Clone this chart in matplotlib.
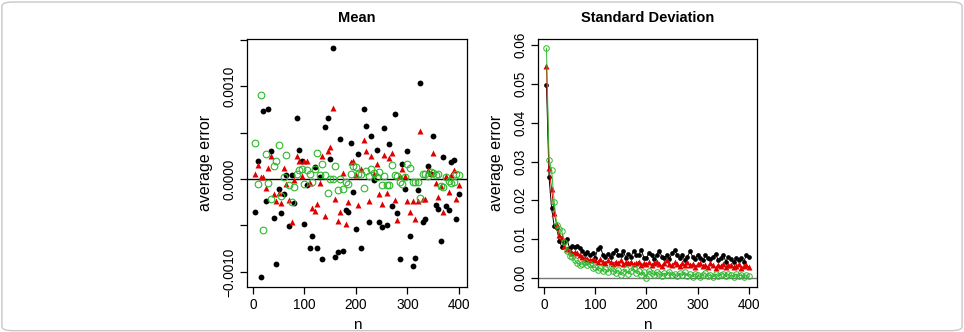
import numpy as np
import matplotlib
matplotlib.use("Agg")
from matplotlib import pyplot as plt
from matplotlib.patches import FancyBboxPatch

plt.rcParams['font.family'] = ['Liberation Sans', 'DejaVu Sans']

# sample sizes
n = list(range(5, 405, 5))

# average error of the mean (units of 1e-4)
mean_black = [-3.6, 1.9, -10.6, 7.3, -2.4, 7.6, 3.0, -4.2, -9.1, -1.1,
              -3.7, -1.6, 0.4, -5.1, 0.4, -2.6, 6.6, 3.1, 2.0, -4.8,
              -0.6, -7.4, -6.1, 1.3, -7.4, 0.2, -8.6, 5.6, 6.6, 2.2,
              14.1, -8.4, -7.9, 4.3, -7.7, -3.3, -3.6, 3.9, -1.4, -5.4,
              2.7, -7.4, 7.6, 5.7, -4.6, 4.6, -0.1, 3.1, -4.6, -5.2,
              5.5, -4.9, 3.8, -2.9, 7.0, -3.7, -8.6, 1.6, -1.1, 3.0,
              -6.1, -9.4, -8.5, -1.2, 10.4, -4.6, -4.3, 1.4, 0.5, 4.6,
              -2.8, -3.2, -6.7, 2.4, -2.9, -3.3, 1.8, 2.1, -4.3, -1.6]
mean_red = [0.5, 1.5, 0.2, 0.2, -1.0, 1.2, 2.5, -1.6, -2.4, -1.5,
            -2.6, 1.2, -0.5, -2.3, -4.6, -0.1, 2.5, 1.9, 0.3, 1.9,
            1.9, -0.4, -3.1, -3.4, -2.7, -0.4, 2.5, -4.0, 3.0, 3.5,
            7.7, -2.1, -4.5, -3.6, 0.7, -4.8, -2.5, 1.8, 2.0, 0.4,
            -2.8, 1.1, 4.2, 3.0, -2.4, 2.5, 0.6, 1.6, -1.6, -2.7,
            2.6, -1.5, 2.3, 2.8, -2.3, -4.4, 0.3, 1.1, 0.3, -2.4,
            -3.6, -2.4, -4.3, -2.4, 5.2, -2.2, -2.2, 1.0, 0.7, 2.8,
            -0.4, -1.9, -0.7, -3.6, 0.3, -1.4, 0.4, 1.0, -2.2, -0.6]
mean_green = [3.9, -0.5, 9.1, -5.5, 2.7, -0.4, -2.2, 1.4, 2.0, 3.7,
              -1.8, 0.2, 2.6, -0.6, -2.5, -0.9, 0.5, 1.0, 1.1, -0.5,
              1.0, 0.6, -0.3, 1.1, 2.8, 0.4, 1.6, 0.4, -1.5, 0.0,
              0.0, 1.4, -1.2, 0.0, -1.1, -0.3, -0.5, 0.5, 1.4, 1.3,
              0.6, 0.5, -1.0, 0.9, 0.3, 1.1, 0.7, 0.2, 0.8, -0.6,
              0.3, -0.6, -0.6, 1.5, 0.4, 0.3, -0.3, -0.5, 0.2, 1.6,
              1.2, -0.3, -0.3, -0.3, -2.0, 0.5, 0.6, 0.3, 0.8, 0.7,
              0.4, 0.6, -0.7, -0.9, 0.2, -0.2, -0.4, -0.3, 0.5, 0.4]

# average error of the standard deviation (units of 1e-3)
sd_black = [49.7, 25.9, 17.9, 13.4, 12.8, 9.6, 7.9, 9.3, 10.0, 7.6,
            8.2, 8.0, 8.3, 7.7, 7.0, 6.2, 6.6, 5.8, 6.4, 5.2,
            7.5, 8.0, 6.0, 5.5, 6.2, 5.5, 6.5, 7.2, 6.0, 5.8,
            6.8, 5.2, 6.2, 5.5, 7.0, 5.8, 6.0, 7.2, 5.2, 5.0,
            6.5, 5.8, 4.8, 6.0, 7.0, 5.5, 5.2, 5.8, 4.8, 6.5,
            7.2, 5.8, 5.2, 6.0, 4.5, 5.5, 6.8, 5.5, 4.8, 6.0,
            5.2, 4.5, 5.8, 5.0, 4.8, 5.5, 6.2, 4.5, 5.0, 5.8,
            4.2, 5.5, 4.8, 4.0, 5.2, 4.5, 5.0, 4.2, 5.8, 5.5]
sd_red = [54.6, 28.2, 23.0, 16.7, 13.6, 11.0, 10.5, 8.2, 7.4, 7.0,
          6.5, 6.6, 6.4, 6.0, 5.5, 5.0, 4.9, 4.6, 4.8, 4.5,
          4.0, 4.8, 4.2, 3.8, 4.5, 4.0, 3.6, 4.2, 3.8, 4.5,
          3.5, 4.0, 3.8, 4.2, 3.5, 3.8, 4.2, 3.3, 3.8, 3.5,
          4.0, 3.2, 3.7, 4.2, 3.5, 3.0, 3.8, 4.5, 3.5, 3.2,
          4.0, 3.6, 3.0, 3.8, 3.4, 4.2, 3.2, 3.6, 2.8, 3.5,
          3.8, 3.0, 3.4, 2.8, 3.8, 3.2, 2.6, 3.4, 3.0, 3.6,
          2.7, 3.2, 3.4, 2.8, 3.0, 3.5, 2.6, 3.0, 3.2, 2.8]
sd_green = [59.2, 30.5, 27.8, 19.6, 13.6, 12.6, 12.0, 9.2, 7.0, 5.6,
            5.4, 4.6, 3.8, 3.4, 3.6, 4.0, 3.2, 3.6, 2.6, 2.8,
            2.0, 2.5, 1.8, 2.2, 1.5, 2.5, 1.8, 1.2, 2.0, 0.8,
            1.5, 2.2, 1.0, 1.8, 2.5, 1.2, 1.8, 0.6, 1.5, 0.0,
            1.8, 1.2, 0.8, 1.5, 1.0, 0.5, 1.2, 0.8, 1.6, 0.6,
            1.0, 0.4, 1.2, 0.7, 1.4, 0.5, 0.9, 0.3, 1.1, 0.6,
            0.2, 0.8, 1.2, 0.4, 0.7, 0.3, 1.0, 0.5, 0.8, 1.1,
            0.4, 0.9, 0.6, 0.3, 1.0, 0.5, 0.7, 0.2, 0.6, 0.4]

x = np.array(n)
m_b = np.array(mean_black) * 1e-4
m_r = np.array(mean_red) * 1e-4
m_g = np.array(mean_green) * 1e-4
s_b = np.array(sd_black) * 1e-3
s_r = np.array(sd_red) * 1e-3
s_g = np.array(sd_green) * 1e-3

RED = '#e00000'
GREEN = '#2db82d'

fig = plt.figure(figsize=(9.64, 3.32), dpi=100)
ax1 = fig.add_axes([0.2566, 0.1355, 0.2279, 0.747])
ax2 = fig.add_axes([0.5585, 0.1355, 0.2268, 0.747])

# left: mean
ax1.axhline(0, color='black', lw=1.0, zorder=1)
ax1.plot(x, m_b, 'o', color='black', ms=4.2, mec='none', zorder=2)
ax1.plot(x, m_r, '^', color=RED, ms=4.6, mec='none', zorder=3)
ax1.plot(x, m_g, 'o', mfc='none', mec=GREEN, ms=4.8, mew=0.8, zorder=4)
ax1.set_xlim(-10.8, 415.8)
ax1.set_ylim(-0.001163, 0.001509)
ax1.set_yticks([-0.001, -0.0005, 0, 0.0005, 0.001, 0.0015])
ax1.set_yticklabels(['\u22120.0010', '', '0.0000', '', '0.0010', ''])

# right: standard deviation
ax2.axhline(0, color='#777777', lw=1.0, zorder=1)
ax2.plot(x, s_b, '-o', color='black', lw=0.7, ms=3.4, mec='none', zorder=2)
ax2.plot(x, s_r, '-^', color=RED, lw=0.7, ms=3.8, mec='none', zorder=3)
ax2.plot(x, s_g, '-o', color=GREEN, lw=0.7, mfc='none', mec=GREEN, ms=4.0,
         mew=0.7, zorder=4)
ax2.set_xlim(-10.8, 415.8)
ax2.set_ylim(-0.00237, 0.0616)
ax2.set_yticks([0, 0.01, 0.02, 0.03, 0.04, 0.05, 0.06])
ax2.set_yticklabels(['0.00', '0.01', '0.02', '0.03', '0.04', '0.05', '0.06'])

for ax, title in [(ax1, 'Mean'), (ax2, 'Standard Deviation')]:
    ax.set_xticks([0, 100, 200, 300, 400])
    ax.tick_params(direction='out', length=5, width=0.9, labelsize=9.8,
                   pad=3)
    for lab in ax.get_yticklabels():
        lab.set_rotation(90)
        lab.set_va('center')
    for sp in ax.spines.values():
        sp.set_linewidth(0.9)
    ax.text(0.5, 1.085, title, transform=ax.transAxes, ha='center',
            va='center', fontsize=10.5, fontweight='bold')
    ax.set_xlabel('n', fontsize=11)
    ax.xaxis.label.set_va('center')
    ax.xaxis.set_label_coords(0.5, -0.155)
    ax.set_ylabel('average error', fontsize=11.5)
    ax.yaxis.label.set_va('center')
    ax.yaxis.set_label_coords(-0.19, 0.5)

border = FancyBboxPatch((0.002, 0.004), 0.996, 0.99,
                        boxstyle='round,pad=0,rounding_size=0.012',
                        transform=fig.transFigure, fill=False,
                        ec='#c8c8c8', lw=1.0)
fig.patches.append(border)

fig.savefig('out.png', dpi=100)
